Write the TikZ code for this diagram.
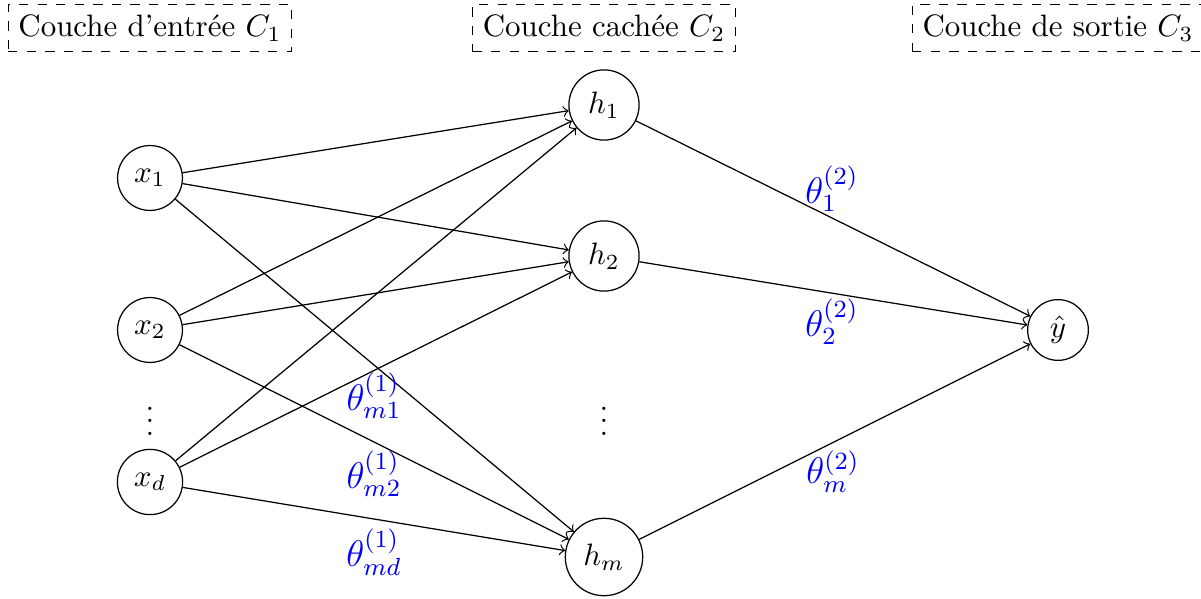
\documentclass[tikz,border=0pt]{standalone}
\begin{document}
\begin{tikzpicture}[x=0.323pt,y=-0.323pt,
  neuron/.style={circle,draw},
  layerbox/.style={draw,dashed},
  wlabel/.style={text=blue,font=\large},
  conn/.style={->}]
\useasboundingbox (0,0) rectangle (1201,599);
% layer titles
\node[layerbox] (L1) at (150,28) {Couche d’entrée $C_1$};
\node[layerbox] (L2) at (604,28) {Couche cachée $C_2$};
\node[layerbox] (L3) at (1058,28) {Couche de sortie $C_3$};
% input layer
\node[neuron] (x1) at (150,178) {$x_1$};
\node[neuron] (x2) at (150,330) {$x_2$};
\node (xdots) at (150,412) {$\vdots$};
\node[neuron] (xd) at (150,482) {$x_d$};
% hidden layer
\node[neuron] (h1) at (604,105) {$h_1$};
\node[neuron] (h2) at (604,256) {$h_2$};
\node (hdots) at (604,412) {$\vdots$};
\node[neuron] (hm) at (604,557) {$h_m$};
% output
\node[neuron] (y) at (1058,330) {$\hat{y}$};
% connections
\foreach \i in {x1,x2,xd}{
  \foreach \j in {h1,h2,hm}{
    \draw[conn] (\i) -- (\j);
  }
}
\foreach \j in {h1,h2,hm}{
  \draw[conn] (\j) -- (y);
}
% weights
\node[wlabel] (w1) at (374,396) {$\theta^{(1)}_{m1}$};
\node[wlabel] (w2) at (374,474) {$\theta^{(1)}_{m2}$};
\node[wlabel] (w3) at (374,552) {$\theta^{(1)}_{md}$};
\node[wlabel] (v1) at (832,189) {$\theta^{(2)}_{1}$};
\node[wlabel] (v2) at (832,322) {$\theta^{(2)}_{2}$};
\node[wlabel] (v3) at (833,472) {$\theta^{(2)}_{m}$};
\end{tikzpicture}
\end{document}
